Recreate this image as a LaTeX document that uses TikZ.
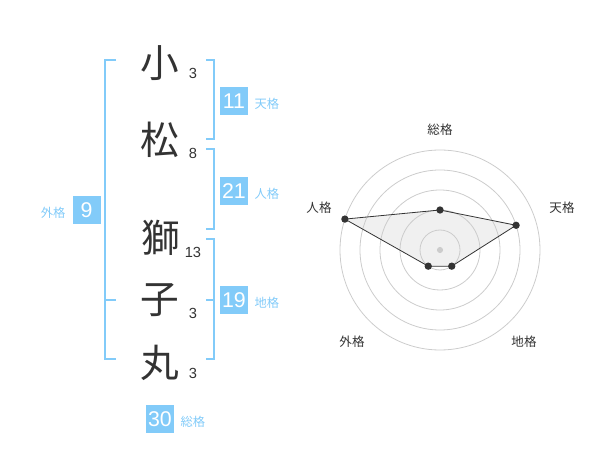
\documentclass[tikz,border=0pt]{standalone}
\usepackage{fontspec}
\setmainfont{Liberation Sans}
\newfontfamily\cjk{Noto Sans CJK JP}
\usetikzlibrary{positioning}
\definecolor{kakublue}{HTML}{82CBF9}
\definecolor{inkgrey}{HTML}{333333}
\tikzset{
  kanji/.style={font=\cjk\fontsize{29}{29}\selectfont,text=inkgrey,inner sep=0},
  strokes/.style={font=\fontsize{11}{11}\selectfont,text=inkgrey,inner sep=0},
  kakubox/.style={fill=kakublue,text=white,minimum size=21pt,inner sep=0,font=\fontsize{16}{16}\selectfont},
  kakulabel/.style={font=\cjk\fontsize{9.2}{9.2}\selectfont,text=kakublue,inner sep=0},
  bracket/.style={draw=kakublue,line width=1.5pt},
  ring/.style={draw=black!20,line width=.6pt},
  axislabel/.style={font=\cjk\fontsize{9.4}{9.4}\selectfont,text=inkgrey,inner sep=0},
  dot/.style={circle,fill=inkgrey,inner sep=0,minimum size=5.5pt}
}
\begin{document}
\begin{tikzpicture}[x=.75pt,y=-.75pt]
\useasboundingbox (0,0) rectangle (600,470);
\node[kanji] (c1) at (160,63) {小};
\node[kanji] (c2) at (160,140) {松};
\node[kanji] (c3) at (161,238) {獅};
\node[kanji] (c4) at (160,300) {子};
\node[kanji] (c5) at (160,363) {丸};
\node[strokes] (s1) at (193,73) {3};
\node[strokes] (s2) at (193,153) {8};
\node[strokes] (s3) at (193,252) {13};
\node[strokes] (s4) at (193,313) {3};
\node[strokes] (s5) at (193,373) {3};

\draw[bracket] (116,60) -- (105,60) -- (105,359) -- (116,359);
\draw[bracket] (105,300) -- (116,300);
\draw[bracket] (206,60) -- (214,60) -- (214,139) -- (206,139);
\draw[bracket] (206,149) -- (214,149) -- (214,229) -- (206,229);
\draw[bracket] (206,239) -- (214,239) -- (214,359) -- (206,359);
\draw[bracket] (206,300) -- (214,300);

\node[kakubox] (ten) at (234,101) {11};
\node[kakulabel,right=4.5pt of ten,yshift=-2pt] (tenlab) {天格};
\node[kakubox] (jin) at (234,191) {21};
\node[kakulabel,right=4.5pt of jin,yshift=-2pt] (jinlab) {人格};
\node[kakubox] (gai) at (86.5,210) {9};
\node[kakulabel,left=5pt of gai,yshift=-2pt] (gailab) {外格};
\node[kakubox] (chi) at (234,300.5) {19};
\node[kakulabel,right=4.5pt of chi,yshift=-2pt] (chilab) {地格};
\node[kakubox] (sou) at (160,419) {30};
\node[kakulabel,right=4.5pt of sou,yshift=-2pt] (soulab) {総格};

\begin{scope}[shift={(440,250)}]
\coordinate (p1) at (90:30pt);
\coordinate (p2) at (18:60pt);
\coordinate (p3) at (-54:15pt);
\coordinate (p4) at (-126:15pt);
\coordinate (p5) at (162:75pt);
\fill[black!6] (p1) -- (p2) -- (p3) -- (p4) -- (p5) -- cycle;
\foreach \r in {1,...,5}\draw[ring] (0,0) circle (\r*15pt);
\fill[black!20] (0,0) circle (2.3pt);
\draw[inkgrey,line width=.6pt] (p1) -- (p2) -- (p3) -- (p4) -- (p5) -- cycle;
\foreach \p in {p1,p2,p3,p4,p5}\node[dot] (d\p) at (\p) {};
\end{scope}
\node[axislabel] (axsou) at (440,130) {総格};
\node[axislabel] (axten) at (562,208) {天格};
\node[axislabel] (axchi) at (524,342) {地格};
\node[axislabel] (axgai) at (352,342) {外格};
\node[axislabel] (axjin) at (319,208) {人格};
\end{tikzpicture}
\end{document}
